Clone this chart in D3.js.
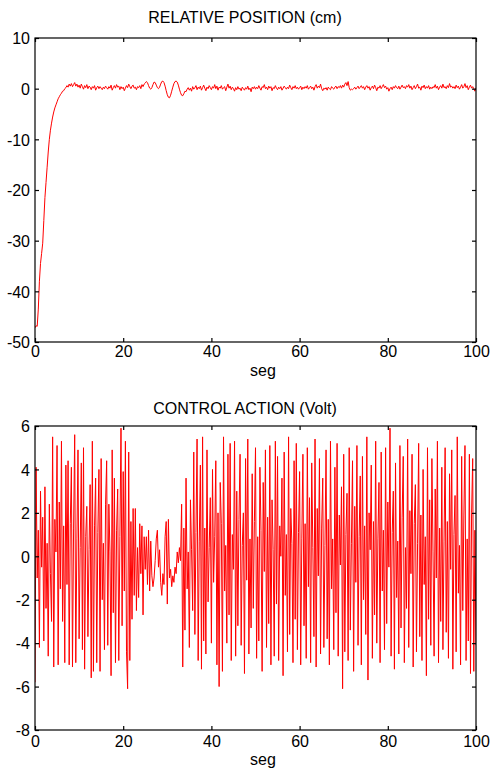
<!DOCTYPE html>
<html>
<head>
<meta charset="utf-8">
<script src="https://cdn.jsdelivr.net/npm/d3@7"></script>
<style>
  html, body { margin: 0; padding: 0; background: #fff; }
  svg { display: block; }
  text { font-family: "Liberation Sans", Arial, sans-serif; fill: #000; }
</style>
</head>
<body>
<svg id="chart" width="490" height="769"></svg>
<script>
// ---------------- DATA ----------------
const sampleStep = 0.25; // seconds between samples
const xTicks = [0, 20, 40, 60, 80, 100];
const posTicks = [-50, -40, -30, -20, -10, 0, 10];
const voltTicks = [-8, -6, -4, -2, 0, 2, 4, 6];
const titles = ["RELATIVE POSITION (cm)", "CONTROL ACTION (Volt)"];
const xLabel = "seg";

// relative position (cm), one sample every 0.25 s from 0 to 100 s
const position = [
  -47.2, -46.8, -46.9, -43.5, -38.0, -34.5, -32.5, -30.5, -26.0, -21.5,
  -18.5, -15.5, -12.5, -10.0, -8.2, -6.8, -5.6, -4.6, -3.8, -3.2,
  -2.6, -2.0, -1.6, -1.2, -0.9, -0.5, -0.4, 0.0, 0.2, 0.6,
  0.3, 0.9, 0.5, 1.0, 0.4, 0.8, 1.2, 0.5, 0.9,
  0.3, 0.7, 0.1, 0.9, 0.4, -0.1, 0.6, 0.2, 0.8, 0.0, 0.5, 0.3, -0.2, 0.4, 0.1, 0.6, -0.3, 0.2, 0.5, 0.0, 0.4,
  0.1, -0.2, 0.3, 0.0, 0.5, 0.2, -0.1, 0.4, 0.1, 0.7, -0.3, 0.2, 0.6, 0.1, 0.8, 0.3, 0.5, -0.2, 0.4, 0.0,
  0.3, -0.4, 0.1, 0.6, 0.2, 0.9, 0.4, 0.0, 0.5, 0.7, 0.1, 0.3, -0.2, 0.4, 0.2, 0.6, 0.0, 0.8, 0.4, 0.9,
  1.1, 1.4, 1.2, 0.6, 0.1, -0.1, 0.2, 0.8, 1.3, 1.2, 0.7, 0.2, 0.0, 0.3, 0.9, 1.4, 1.5, 1.2, 0.5, -0.4,
  -1.2, -1.7, -1.8, -1.3, -0.5, 0.3, 1.0, 1.4, 1.5, 1.3, 0.7, -0.1, -0.8, -1.3, -1.4, -1.0, -0.5, -0.6, -0.1, 0.2,
  -0.3, 0.1, -0.5, 0.4, -0.1, 0.2, 0.6, -0.2, 0.3, 0.0, 0.5, -0.3, 0.2, 0.7, 0.1, -0.4, 0.3, 0.0, 0.6, 0.2,
  -0.2, 0.4, 0.1, 0.8, 0.0, 0.5, -0.3, 0.3, 0.1, 0.6, -0.1, 0.2, 0.4, -0.4, 0.3, 0.9, 0.1, 0.5, -0.2, 0.3,
  0.0, -0.5, 0.2, -0.2, 0.4, -0.1, 0.1, -0.4, 0.3, 0.0, -0.3, 0.2, -0.1, 0.5, -0.2, 0.1, -0.6, 0.3, 0.0, 0.4,
  -0.1, 0.3, 0.0, 0.6, 0.1, -0.3, 0.4, 0.2, 0.8, 0.0, 0.3, -0.2, 0.5, 0.1, 0.4, -0.4, 0.2, 0.0, 0.6, 0.1,
  -0.2, 0.3, 0.0, 0.4, -0.3, 0.1, 0.5, 0.2, -0.1, 0.3, 0.0, 0.7, 0.2, -0.2, 0.4, 0.1, 0.6, 0.0, 0.3, -0.1,
  0.2, 0.5, -0.2, 0.3, 0.0, 0.4, 0.1, 0.6, -0.1, 0.2, 0.5, 0.0, 0.3, -0.3, 0.4, 0.8, 0.1, 0.5, 0.2, 0.9,
  0.0, -0.4, 0.1, -0.1, 0.2, -0.3, 0.3, 0.0, -0.2, 0.4, 0.1, -0.1, 0.3, 0.5, 0.0, 0.4, 0.2, 0.6, 0.1, 0.7,
  0.3, 0.9, 1.2, 0.6, 1.4, 0.2, -0.3, -0.1, -0.2, 0.0, 0.3, -0.1, 0.2, 0.5, 0.0, 0.3, 0.6, 0.1, 0.4, -0.2,
  0.3, 0.6, 0.1, 0.4, -0.3, 0.2, 0.5, 0.0, 0.7, 0.2, -0.4, 0.3, 0.1, 0.6, 0.0, 0.4, 0.8, 0.2, 0.5, -0.1,
  0.2, -0.5, 0.0, 0.3, -0.2, 0.4, 0.1, 0.6, 0.2, 0.0, 0.5, -0.1, 0.3, 0.7, 0.2, 0.4, 0.0, 0.6, 0.3, 0.8,
  0.1, 0.5, -0.2, 0.2, 0.6, 0.0, 0.4, 0.9, 0.1, 0.3, -0.3, 0.5, 0.2, 0.7, 0.0, 0.4, 0.1, 0.6, -0.1, 0.3,
  0.0, 0.4, 0.2, 0.8, 0.1, 0.5, -0.2, 0.3, 0.6, 0.1, 0.9, 0.2, 0.4, 0.0, 0.6, 0.2, 1.0, 0.3, 0.5, 0.1,
  0.4, 0.0, 0.7, 0.2, 0.5, -0.1, 0.3, 0.8, 0.1, 0.4, 1.0, 0.2, 0.6, -0.2, 0.3, 0.7, 0.1, 0.4, 0.0, -0.5, 0.2
];

// control action (Volt), one sample every 0.25 s from 0 to 100 s
const control = [
  -5.8, 4.1, -1.0, 1.2, -4.2, 3.0, -0.5, 1.8, -3.9, 3.2,
  -2.4, 0.6, -4.6, 2.4, -0.8, -3.0, 5.5, -5.1, 1.7, 0.2,
  5.1, -5.0, 2.5, -1.5, 5.3, -3.0, 1.4, -4.9, 4.2, -1.3,
  4.4, -5.0, 1.5, 4.1, -5.1, 1.3, 5.6, -4.9, 0.8, 4.9,
  -3.8, 0.4, 4.3, -4.3, 5.0, -5.2, 0.9, 2.3, -3.7, 0.3,
  3.3, -5.6, 5.3, -5.3, 1.4, 3.6, -4.9, 1.1, 4.0, -5.3,
  4.5, -2.0, 0.6, -4.3, 2.4, 4.4, -4.1, 2.4, 0.2, -5.5,
  4.9, -2.6, 3.6, -4.9, 1.2, 3.1, -4.8, 0.9, 5.9, -3.2,
  3.9, -1.6, 5.3, -4.4, -6.1, 4.8, -4.8, 1.6, -2.9, 2.2,
  -1.8, 2.2, -2.5, 0.4, -1.9, 1.5, -0.8, 1.4, -2.7, 0.9,
  -0.6, 0.9, -1.3, 1.2, -1.6, 0.7, -0.9, -1.4, -1.0, -0.2,
  0.8, 1.2, -0.5, 0.3, -1.2, -1.8, -0.8, -1.3, 0.9, 1.6,
  -2.2, 1.7, -1.0, -0.6, -1.4, -0.9, -1.2, -0.5, -0.8, 0.2,
  -0.3, 0.4, -0.2, 2.4, -5.1, 1.3, -3.4, 3.6, -1.5, 0.2,
  -4.2, 2.6, 0.3, -2.5, 4.8, -3.6, 1.1, 5.4, -4.8, 0.7,
  4.2, -5.2, 5.5, -3.9, 1.3, -4.5, 4.9, -2.1, 0.4, 2.7,
  -4.0, 4.0, -1.2, 0.9, 4.4, -5.0, 2.0, -6.0, 3.4, 1.5,
  -5.3, 5.5, -1.6, 0.5, -4.0, 4.7, -2.7, 5.2, -4.8, 1.0,
  -0.6, 5.3, -4.6, 3.0, -3.2, 1.7, 4.7, -4.1, 0.5, 2.0,
  -5.4, 4.5, -1.1, 5.4, -4.5, 0.8, -3.3, 3.8, -2.4, 1.6,
  5.0, -4.7, 0.9, -3.9, 4.1, 1.2, -5.3, 3.4, -0.7, 4.9,
  -4.2, 1.8, -3.1, 5.1, -5.0, 2.6, 0.3, -4.6, 5.3, -2.2,
  4.6, -4.8, 1.4, 0.0, 3.6, -5.5, 4.8, -1.8, 1.0, -4.4,
  5.5, -3.6, 2.2, 0.6, -4.9, 4.4, -2.9, 5.2, -4.3, 1.1,
  3.9, -5.0, 0.8, 4.7, -3.2, 1.5, -4.7, 5.0, -1.4, 2.7,
  -4.9, 4.3, 0.4, -3.7, 5.4, -5.1, 2.2, -0.9, 4.5, -4.5,
  1.3, 3.6, -4.2, 0.5, 4.9, -3.8, 1.7, -5.0, 5.3, -1.5,
  0.8, -4.3, 4.1, -2.6, 5.2, -4.6, 1.9, -0.4, 3.2, -6.1,
  4.7, -4.4, 1.0, 2.9, -4.8, 5.0, -3.4, 0.6, 4.4, -5.3,
  2.3, -1.2, 5.1, -4.1, 0.9, 3.7, -5.0, 4.6, -2.0, 1.4,
  -3.6, 5.5, -5.7, 2.0, 0.3, 4.2, -4.7, 1.6, -2.7, 5.3,
  -4.0, 0.8, 3.4, -4.9, 4.8, -1.6, 1.2, -4.3, 5.0, -3.1,
  2.5, -0.5, 5.9, -4.6, 1.1, 3.0, -5.2, 4.3, -1.9, 0.7,
  -4.5, 5.1, -3.3, 1.8, 4.6, -4.9, 0.4, -2.4, 5.4, -4.2,
  2.1, -0.8, 4.7, -5.1, 1.5, 3.3, -4.4, 0.6, 5.2, -3.7,
  1.9, -4.8, 4.0, -1.3, 0.9, -5.5, 5.0, -2.9, 2.6, -4.1,
  4.5, 0.2, -4.6, 3.1, -1.0, 5.3, -4.9, 1.3, -3.0, 4.1,
  -4.3, 0.7, 5.0, -3.5, 1.6, -4.7, 3.8, -0.6, 4.9, -5.2,
  1.0, 2.8, -4.4, 5.5, -1.7, 0.5, -5.0, 4.6, -2.5, 1.9,
  5.1, -4.8, 0.8, -3.9, 4.7, -5.4, 2.0, 4.5, -5.3, 1.2,
  -4.1
];

// ---------------- DRAW ----------------
const svg = d3.select("#chart");
const left = 35, right = 476;
const fmt = d => String(d); // plain hyphen-minus like the original

const panels = [
  { title: titles[0], data: position, ticks: posTicks, domain: [-50, 10],
    top: 38, bottom: 342, titleY: 22.5, tickLabelY: 357, labelY: 376 },
  { title: titles[1], data: control, ticks: voltTicks, domain: [-8, 6],
    top: 426, bottom: 730, titleY: 414, tickLabelY: 747, labelY: 765 }
];

const x = d3.scaleLinear().domain([0, 100]).range([left, right]);

panels.forEach((p, k) => {
  const y = d3.scaleLinear().domain(p.domain).range([p.bottom, p.top]);
  const g = svg.append("g");
  const tl = 4;

  const clipId = "clip" + k;
  svg.append("clipPath").attr("id", clipId).append("rect")
    .attr("x", left).attr("y", p.top).attr("width", right - left).attr("height", p.bottom - p.top);

  const line = d3.line()
    .x((d, i) => x(i * sampleStep))
    .y(d => y(d));
  g.append("path")
    .datum(p.data)
    .attr("clip-path", `url(#${clipId})`)
    .attr("fill", "none")
    .attr("stroke", "#ff0000")
    .attr("stroke-width", 1)
    .attr("stroke-linejoin", "round")
    .attr("d", line);

  g.append("rect")
    .attr("x", left).attr("y", p.top)
    .attr("width", right - left).attr("height", p.bottom - p.top)
    .attr("fill", "none").attr("stroke", "#000").attr("stroke-width", 1.2);

  const xb = g.append("g").attr("transform", `translate(0,${p.bottom})`)
    .call(d3.axisBottom(x).tickValues(xTicks).tickSize(-tl).tickPadding(0).tickFormat(fmt));
  xb.select(".domain").remove();
  xb.selectAll("line").attr("stroke", "#000").attr("stroke-width", 1.2);
  xb.selectAll("text").attr("dy", null).attr("y", p.tickLabelY - p.bottom)
    .style("font-size", "16px").style("font-family", "Liberation Sans, Arial, sans-serif");

  const xt = g.append("g").attr("transform", `translate(0,${p.top})`)
    .call(d3.axisTop(x).tickValues(xTicks).tickSize(-tl).tickFormat(""));
  xt.select(".domain").remove();
  xt.selectAll("line").attr("stroke", "#000").attr("stroke-width", 1.2);

  const yl = g.append("g").attr("transform", `translate(${left},0)`)
    .call(d3.axisLeft(y).tickValues(p.ticks).tickSize(-tl).tickPadding(5).tickFormat(fmt));
  yl.select(".domain").remove();
  yl.selectAll("line").attr("stroke", "#000").attr("stroke-width", 1.2);
  yl.selectAll("text").attr("dy", "0.36em")
    .style("font-size", "16px").style("font-family", "Liberation Sans, Arial, sans-serif");

  const yr = g.append("g").attr("transform", `translate(${right},0)`)
    .call(d3.axisRight(y).tickValues(p.ticks).tickSize(-tl).tickFormat(""));
  yr.select(".domain").remove();
  yr.selectAll("line").attr("stroke", "#000").attr("stroke-width", 1.2);

  svg.append("text").attr("x", 245).attr("y", p.titleY)
    .attr("text-anchor", "middle").style("font-size", "16px").text(p.title);

  svg.append("text").attr("x", 263).attr("y", p.labelY)
    .attr("text-anchor", "middle").style("font-size", "16px").text(xLabel);
});
</script>
</body>
</html>
